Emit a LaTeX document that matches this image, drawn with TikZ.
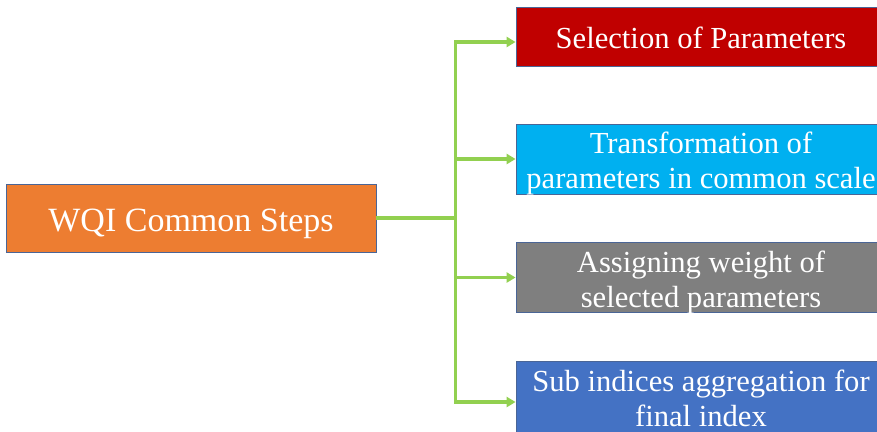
\documentclass[tikz,border=0pt]{standalone}
\usepackage{fontspec}
\setmainfont{Liberation Serif}
\usepackage{xcolor}
\usepackage{tikz}
\usetikzlibrary{arrows.meta}
\newcommand{\steptext}[1]{\raisebox{-5pt}[\height][\depth]{\begin{tabular}{@{}c@{}}#1\end{tabular}}}
\tikzstyle{rectblock} = [rectangle, draw=bedge, line width=0.8pt, align=center, text=white, inner sep=0pt, minimum width=370pt]
\tikzstyle{stepblock} = [rectblock, font=\fontsize{30.6}{35}\selectfont]
\tikzstyle{line} = [draw=bgreen, line width=3.5pt]
\tikzstyle{arrow} = [line, -{Triangle[length=9pt, width=10pt]}]
\definecolor{bedge}{HTML}{4A6596}
\definecolor{bred}{HTML}{C00000}
\definecolor{bcyan}{HTML}{00B0F0}
\definecolor{bgrey}{HTML}{7F7F7F}
\definecolor{bblue}{HTML}{4472C4}
\definecolor{borange}{HTML}{ED7D31}
\definecolor{bgreen}{HTML}{92D050}
\begin{document}
\begin{tikzpicture}[x=1pt, y=-1pt]
    \useasboundingbox (0, 0) rectangle (877, 431);
    \clip (0, 0) rectangle (877, 431);
    % root
    \node[rectblock, fill=borange, minimum height=68pt, font=\fontsize{34}{40}\selectfont] at (191, 218) (wqi) {\raisebox{-6pt}[\height][\depth]{WQI Common Steps}};

    % steps
    \node[stepblock, fill=bred, minimum height=59pt] at (701, 36.5) (sel) {\steptext{Selection of Parameters}};
    \node[stepblock, fill=bcyan, minimum height=68pt] at (701, 159) (trans) {\steptext{Transformation of\\parameters in common scale}};
    \node[stepblock, fill=bgrey, minimum height=69pt] at (701, 277.5) (weight) {\steptext{Assigning weight of\\selected parameters}};
    \node[stepblock, fill=bblue, minimum height=72pt] at (701, 397) (agg) {\steptext{Sub indices aggregation for\\final index}};

    % connectors
    \path[line] (wqi.east) -- ++(79, 0) coordinate (trunk);
    \path[arrow] (trunk) |- ([yshift=-5.5pt]sel.west);
    \path[arrow] (trunk) |- (trans.west);
    \path[arrow] (trunk) |- (weight.west);
    \path[arrow] (trunk) |- ([yshift=-5pt]agg.west);
\end{tikzpicture}
\end{document}
